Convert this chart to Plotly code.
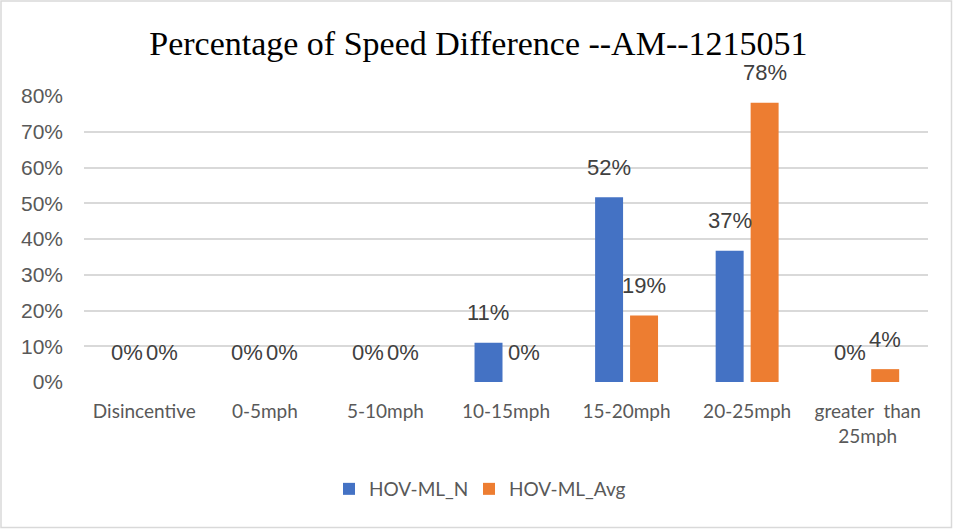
import plotly.graph_objects as go

categories = ["Disincentive", "0-5mph", "5-10mph", "10-15mph", "15-20mph", "20-25mph",
              "greater\u00a0 than<br>25mph"]
series_names = ["HOV-ML_N", "HOV-ML_Avg"]
hov_ml_n = [0.0, 0.0, 0.0, 0.110, 0.517, 0.367, 0.0]
hov_ml_avg = [0.0, 0.0, 0.0, 0.0, 0.186, 0.781, 0.036]
y_ticks = [0, 0.1, 0.2, 0.3, 0.4, 0.5, 0.6, 0.7, 0.8]
y_tick_labels = ["0%", "10%", "20%", "30%", "40%", "50%", "60%", "70%", "80%"]
colors = ["#4472C4", "#ED7D31"]

W, H = 953, 529
ML, MR, MT, MB = 84, 25, 96, 147
pw, ph = W - ML - MR, H - MT - MB

legend_ids = ["legend", "legend2"]
fig = go.Figure()
for name, vals, col, lg in zip(series_names, [hov_ml_n, hov_ml_avg], colors, legend_ids):
    fig.add_trace(go.Bar(x=categories, y=vals, name=name, legend=lg,
                         marker=dict(color=col, line=dict(width=0))))

# data labels
offsets = [-17.6, 17.6]
annotations = []
for vals, off in zip([hov_ml_n, hov_ml_avg], offsets):
    for c, v in zip(categories, vals):
        annotations.append(dict(x=c, y=v, xref="x", yref="y", text=f"{round(v*100)}%",
                                showarrow=False, xshift=off, yshift=30,
                                xanchor="center", yanchor="middle",
                                font=dict(family="Liberation Sans, Arial", size=22, color="#404040")))

legend_style = dict(orientation="h", xanchor="left", yanchor="middle",
                    y=(H - MB - 489) / ph,
                    font=dict(family="Lato", size=19, color="#595959"),
                    bgcolor="rgba(0,0,0,0)")

fig.update_layout(
    width=W, height=H,
    margin=dict(l=ML, r=MR, t=MT, b=MB),
    paper_bgcolor="white", plot_bgcolor="white",
    title=dict(text="Percentage of Speed Difference --AM--1215051",
               font=dict(family="Liberation Serif, Times New Roman", size=34, color="black"),
               x=0.502, xref="container", xanchor="center",
               y=1 - 43 / H, yref="container", yanchor="middle"),
    barmode="group", bargap=0.42, bargroupgap=0.2,
    showlegend=True,
    legend=dict(x=(329 - ML) / pw, **legend_style),
    legend2=dict(x=(469 - ML) / pw, **legend_style),
    annotations=annotations,
    shapes=[dict(type="rect", xref="paper", yref="paper",
                 x0=(1 - ML) / pw, x1=(W - 1.5 - ML) / pw,
                 y0=(H - MB - (H - 1.5)) / ph, y1=(H - MB - 1) / ph,
                 line=dict(color="#D9D9D9", width=1.5), layer="below")],
)
fig.update_yaxes(range=[0, 0.8], tickvals=y_ticks, ticktext=y_tick_labels,
                 showgrid=True, gridcolor="#D9D9D9", gridwidth=1.5,
                 zeroline=False, showline=False, ticks="", ticklabelstandoff=20,
                 tickfont=dict(family="Liberation Sans, Arial", size=21, color="#595959"))
fig.update_xaxes(showgrid=False, showline=False, ticks="", ticklabelstandoff=16,
                 tickfont=dict(family="Lato", size=19, color="#595959"),
                 tickangle=0)

fig.write_html("out.html")
